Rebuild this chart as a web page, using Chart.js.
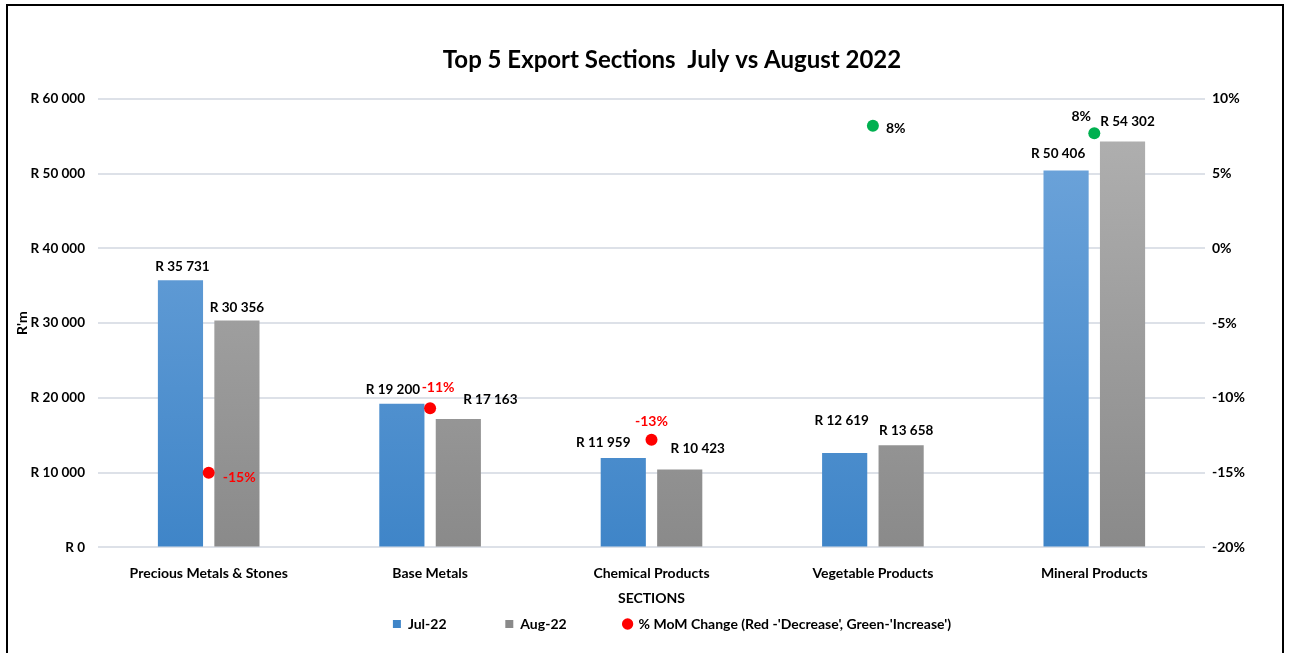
<!DOCTYPE html>
<html>
<head>
<meta charset="utf-8">
<script src="https://cdn.jsdelivr.net/npm/chart.js@4.4.1/dist/chart.umd.min.js"></script>
<style>
  html, body { margin: 0; padding: 0; background: #fff; overflow: hidden; }
  #frame {
    position: absolute; left: 6px; top: 4px;
    width: 1274px; height: 660px;
    border: 2px solid #000; background: #fff;
    overflow: hidden;
  }
  canvas { display: block; }
</style>
</head>
<body>
<div id="frame"><canvas id="exportChart" width="1328" height="647"></canvas></div>
<script>
const categories = ['Precious Metals & Stones', 'Base Metals', 'Chemical Products', 'Vegetable Products', 'Mineral Products'];
const jul22 = [35731, 19200, 11959, 12619, 50406];
const aug22 = [30356, 17163, 10423, 13658, 54302];
const momChange = [-15.0, -10.7, -12.8, 8.2, 7.7];   // % month on month
const momLabels = ['-15%', '-11%', '-13%', '8%', '8%'];

const FONT = "Lato, 'Liberation Sans', sans-serif";

// R 35 731 style
function rands(v) {
    return 'R ' + String(Math.round(v)).replace(/\B(?=(\d{3})+(?!\d))/g, ' ');
}

function barGradient(top, bottom, fallback) {
    return function(ctx) {
        const area = ctx.chart.chartArea;
        if (!area) return fallback;
        const g = ctx.chart.ctx.createLinearGradient(0, area.top, 0, area.bottom);
        g.addColorStop(0, top);
        g.addColorStop(1, bottom);
        return g;
    };
}

// label nudges (dx, dy from top centre of the bar / the dot), hand placed like the original
const julShift = [[2, -14], [-9, -14], [-20, -15], [-3, -32], [-8, -17]];
const augShift = [[0, -13], [32, -19], [18, -21], [5, -15], [5, -20]];
const momShift = [[14, 5, 'left'], [8, -21, 'center'], [0, -18, 'center'], [13, 3, 'left'], [-13, -17, 'center']];

const valueLabels = {
    id: 'valueLabels',
    afterDatasetsDraw(chart) {
        const c = chart.ctx;
        c.save();
        c.font = 'bold 13.5px ' + FONT;
        c.textBaseline = 'middle';
        c.textAlign = 'center';
        c.fillStyle = '#000';
        [julShift, augShift].forEach(function(shift, di) {
            chart.getDatasetMeta(di).data.forEach(function(bar, i) {
                c.fillText(rands(chart.data.datasets[di].data[i]), bar.x + shift[i][0], bar.y + shift[i][1]);
            });
        });
        c.font = 'bold 14px ' + FONT;
        chart.getDatasetMeta(2).data.forEach(function(pt, i) {
            const o = momShift[i];
            c.fillStyle = momChange[i] < 0 ? '#ff0000' : '#000';
            c.textAlign = o[2];
            c.fillText(momLabels[i], pt.x + o[0], pt.y + o[1]);
        });
        c.restore();
    }
};

const data = {
    labels: categories,
    datasets: [{
        type: 'bar',
        label: 'Jul-22',
        data: jul22,
        backgroundColor: barGradient('#72a7dc', '#3f85c8', '#5b9bd5'),
        pointStyle: 'rect',
        yAxisID: 'y',
        order: 2
    }, {
        type: 'bar',
        label: 'Aug-22',
        data: aug22,
        backgroundColor: barGradient('#b2b2b2', '#8a8a8a', '#a5a5a5'),
        pointStyle: 'rect',
        yAxisID: 'y',
        order: 2
    }, {
        type: 'line',
        label: "% MoM Change (Red -'Decrease', Green-'Increase')",
        data: momChange,
        showLine: false,
        yAxisID: 'y1',
        pointStyle: 'circle',
        pointRadius: 6,
        pointHoverRadius: 6,
        borderWidth: 0,
        backgroundColor: momChange.map(v => v < 0 ? '#ff0000' : '#00b050'),
        borderColor: momChange.map(v => v < 0 ? '#ff0000' : '#00b050'),
        order: 1
    }]
};

const config = {
    data: data,
    plugins: [valueLabels],
    options: {
        responsive: false,
        animation: false,
        datasets: {
            bar: { categoryPercentage: 0.51, barPercentage: 0.8 }
        },
        layout: { padding: { left: 6, right: 6, top: 0, bottom: 12 } },
        plugins: {
            tooltip: { enabled: false },
            title: {
                display: true,
                text: 'Top 5 Export Sections  July vs August 2022',
                color: '#000',
                font: { family: FONT, size: 24, weight: 'bold' },
                padding: { top: 40, bottom: 24 }
            },
            legend: {
                position: 'bottom',
                labels: {
                    usePointStyle: true,
                    boxWidth: 8,
                    boxHeight: 8,
                    padding: 8,
                    color: '#000',
                    font: { family: FONT, size: 14, weight: 'bold' },
                    sort: (a, b) => a.datasetIndex - b.datasetIndex,
                    generateLabels: function(chart) {
                        const items = Chart.defaults.plugins.legend.labels.generateLabels(chart);
                        items.forEach(function(it) {
                            if (it.datasetIndex === 0) it.text += '\u2003\u2003\u2003\u2003\u2002\u2009';
                            if (it.datasetIndex === 1) it.text += '\u2003\u2003\u2003\u2003\u2002';
                        });
                        return items;
                    }
                }
            }
        },
        scales: {
            x: {
                grid: { display: false },
                border: { display: false },
                ticks: { color: '#000', padding: 10, font: { family: FONT, size: 14, weight: 'bold' } },
                title: {
                    display: true, text: 'SECTIONS', color: '#000', padding: { top: -2, bottom: 2 },
                    font: { family: FONT, size: 14, weight: 'bold' }
                }
            },
            y: {
                position: 'left',
                min: 0, max: 60000,
                afterFit: s => { s.width = 84; },
                ticks: {
                    stepSize: 10000, padding: 13, color: '#000',
                    font: { family: FONT, size: 13.5, weight: 'bold' },
                    callback: v => rands(v)
                },
                grid: { color: '#dde1e8', lineWidth: 2, drawTicks: false },
                border: { display: false },
                title: {
                    display: true, text: "R'm", color: '#000', padding: { top: 0, bottom: 4 },
                    font: { family: FONT, size: 14, weight: 'bold' }
                }
            },
            y1: {
                position: 'right',
                min: -20, max: 10,
                afterFit: s => { s.width = 125; },
                ticks: {
                    stepSize: 5, padding: 7, color: '#000',
                    font: { family: FONT, size: 14, weight: 'bold' },
                    callback: v => v + '%'
                },
                grid: { display: false, drawTicks: false },
                border: { display: false }
            }
        }
    }
};

window.onload = function() {
    const ctx = document.getElementById('exportChart').getContext('2d');
    new Chart(ctx, config);
};
</script>
</body>
</html>
